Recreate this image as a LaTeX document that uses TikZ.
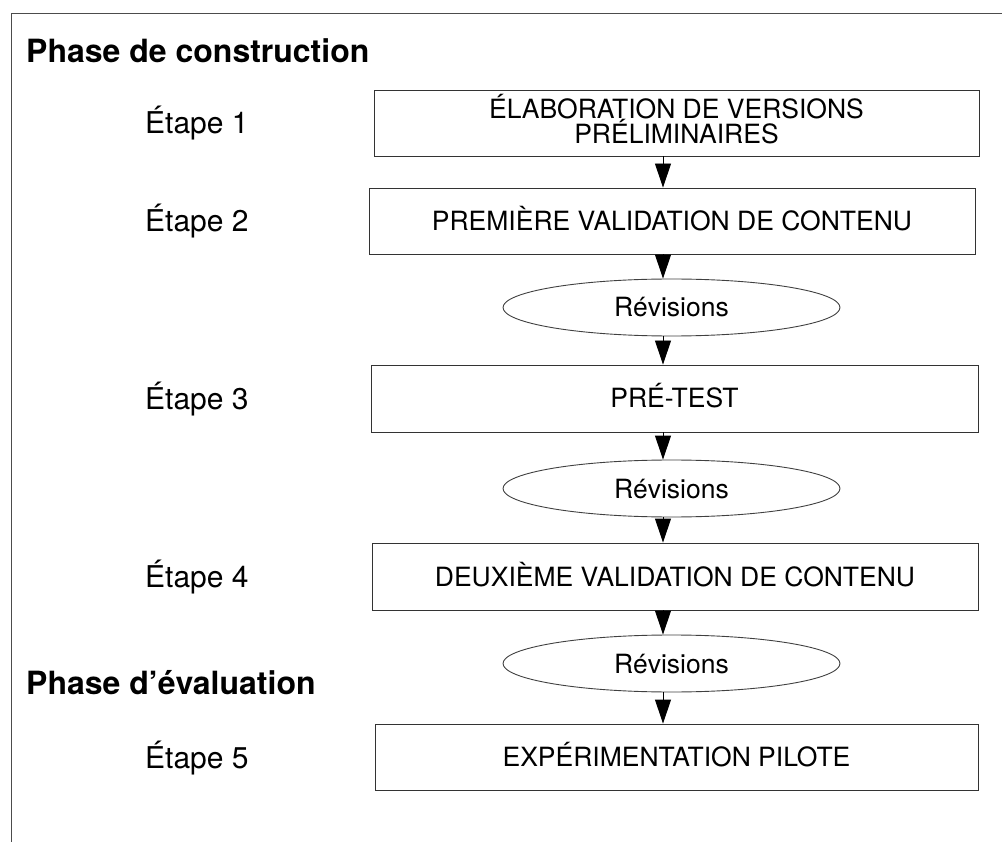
\documentclass[tikz,border=0pt]{standalone}
\usepackage{fontspec}
\setmainfont{TeX Gyre Heros}
\usetikzlibrary{arrows.meta,shapes.geometric}
\tikzset{
  frameline/.style={draw=black!70, line width=0.8pt},
  stepbox/.style={draw=black!80, line width=0.9pt, rectangle, inner sep=0pt,
    font=\fontsize{26.5}{25}\selectfont, text height=19pt, text depth=0pt, align=center},
  revbox/.style={draw=black!75, line width=0.9pt, ellipse, inner sep=0pt,
    minimum width=337pt, minimum height=57pt,
    font=\fontsize{26.5}{26}\selectfont, text height=19pt, text depth=0pt},
  steplabel/.style={anchor=base west, inner sep=0pt, font=\fontsize{30}{30}\selectfont},
  phaselabel/.style={anchor=base west, inner sep=0pt, font=\fontsize{32}{32}\selectfont\bfseries},
  arr/.style={draw=black, line width=0.9pt, -{Triangle[width=16pt,length=24pt]}},
}
\begin{document}
\begin{tikzpicture}[x=1pt,y=-1pt]
\useasboundingbox (0,0) rectangle (1002,842);
% frame
\draw[frameline] (11,842) -- (11,13) -- (1002,13);
% phase titles
\node[phaselabel] (ph1) at (26,63) {Phase de construction};
\node[phaselabel] (ph2) at (26,694) {Phase d’évaluation};
% boxes
\node[stepbox, minimum width=605pt, minimum height=66pt, text height=42pt, text depth=0pt] (b1) at (676.5,123)
  {ÉLABORATION DE VERSIONS\\PRÉLIMINAIRES};
\node[stepbox, minimum width=606pt, minimum height=66pt] (b2) at (672,221) {PREMIÈRE VALIDATION DE CONTENU};
\node[stepbox, minimum width=607pt, minimum height=67pt] (b3) at (674.5,398.5) {PRÉ-TEST};
\node[stepbox, minimum width=606pt, minimum height=67pt] (b4) at (675,576.5) {DEUXIÈME VALIDATION DE CONTENU};
\node[stepbox, minimum width=603pt, minimum height=66pt] (b5) at (676.5,757) {EXPÉRIMENTATION PILOTE};
% ellipses
\node[revbox] (r1) at (671.5,307.5) {Révisions};
\node[revbox] (r2) at (671.5,488.5) {Révisions};
\node[revbox] (r3) at (671.5,663.5) {Révisions};
% step labels
\node[steplabel] (e1) at (145,134) {Étape 1};
\node[steplabel] (e2) at (145,232) {Étape 2};
\node[steplabel] (e3) at (145,409.5) {Étape 3};
\node[steplabel] (e4) at (145,587.5) {Étape 4};
\node[steplabel] (e5) at (145,768) {Étape 5};
% arrows
\coordinate (ax) at (663,0);
\draw[arr] (b1.south -| ax) -- (b2.north -| ax);
\draw[arr] (b2.south -| ax) -- (r1.north -| ax);
\draw[arr] (r1.south -| ax) -- (b3.north -| ax);
\draw[arr] (b3.south -| ax) -- (r2.north -| ax);
\draw[arr] (r2.south -| ax) -- (b4.north -| ax);
\draw[arr] (b4.south -| ax) -- (r3.north -| ax);
\draw[arr] (r3.south -| ax) -- (b5.north -| ax);
\end{tikzpicture}
\end{document}
